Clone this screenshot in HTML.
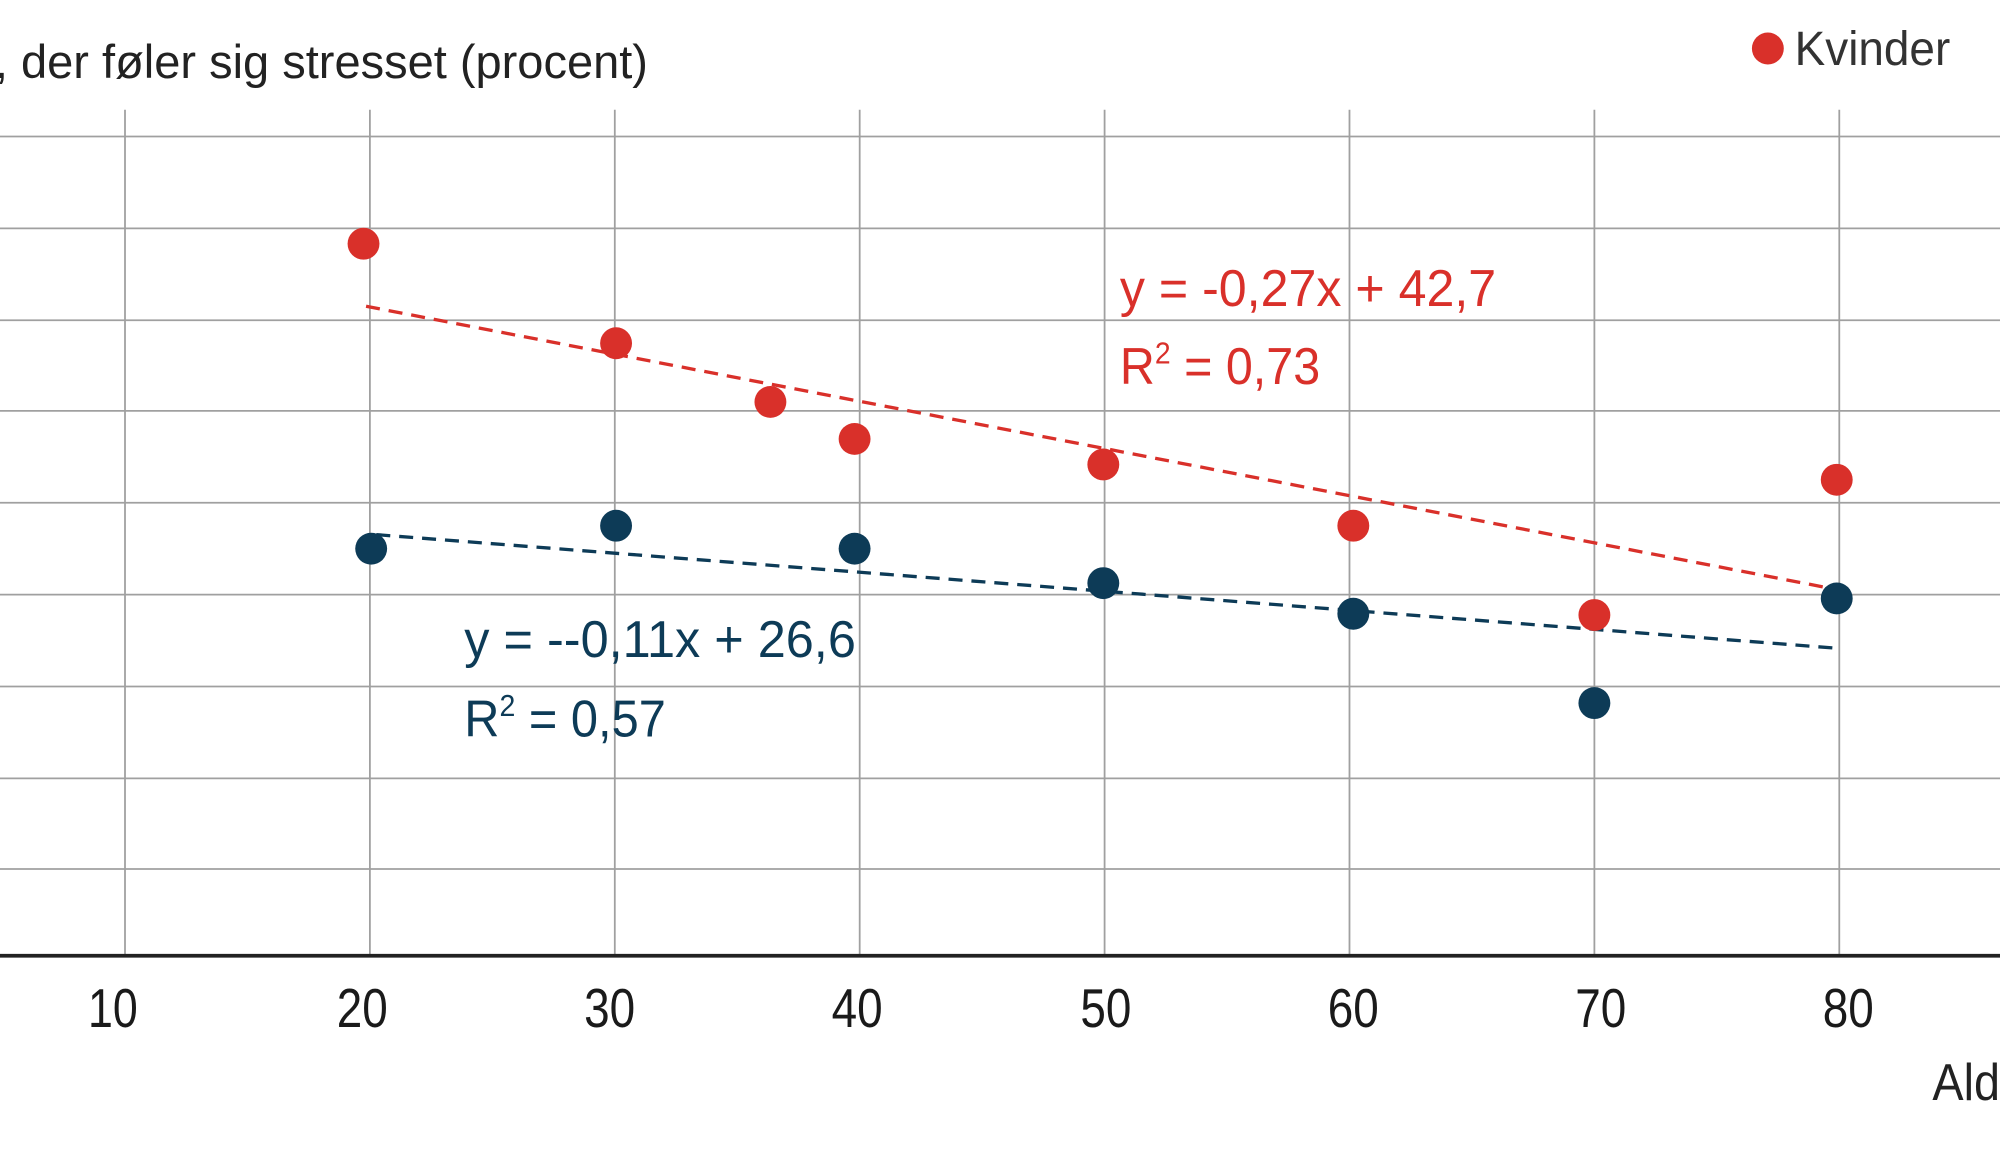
<!DOCTYPE html>
<html><head><meta charset="utf-8"><style>
html,body{margin:0;padding:0;background:#fff;}
svg{display:block;}
text{font-family:"Liberation Sans",sans-serif;}
</style></head><body>
<svg width="2000" height="1165" viewBox="0 0 1568 913" preserveAspectRatio="none" xmlns="http://www.w3.org/2000/svg">
<rect width="1568" height="913" fill="#fff"/>
<g stroke="#a0a0a0" stroke-width="1.4">
<line x1="98" y1="86" x2="98" y2="749"/>
<line x1="290" y1="86" x2="290" y2="749"/>
<line x1="482" y1="86" x2="482" y2="749"/>
<line x1="674" y1="86" x2="674" y2="749"/>
<line x1="866" y1="86" x2="866" y2="749"/>
<line x1="1058" y1="86" x2="1058" y2="749"/>
<line x1="1250" y1="86" x2="1250" y2="749"/>
<line x1="1442" y1="86" x2="1442" y2="749"/>
<line x1="0" y1="107" x2="1568" y2="107"/>
<line x1="0" y1="179" x2="1568" y2="179"/>
<line x1="0" y1="251" x2="1568" y2="251"/>
<line x1="0" y1="322" x2="1568" y2="322"/>
<line x1="0" y1="394" x2="1568" y2="394"/>
<line x1="0" y1="466" x2="1568" y2="466"/>
<line x1="0" y1="538" x2="1568" y2="538"/>
<line x1="0" y1="610" x2="1568" y2="610"/>
<line x1="0" y1="681" x2="1568" y2="681"/>
</g>
<line x1="0" y1="749" x2="1568" y2="749" stroke="#222" stroke-width="3"/>
<g font-size="43" fill="#1a1a1a">
<text x="69" y="805" textLength="39" lengthAdjust="spacingAndGlyphs">10</text>
<text x="264" y="805" textLength="40" lengthAdjust="spacingAndGlyphs">20</text>
<text x="458" y="805" textLength="40" lengthAdjust="spacingAndGlyphs">30</text>
<text x="652" y="805" textLength="40" lengthAdjust="spacingAndGlyphs">40</text>
<text x="847" y="805" textLength="40" lengthAdjust="spacingAndGlyphs">50</text>
<text x="1041" y="805" textLength="40" lengthAdjust="spacingAndGlyphs">60</text>
<text x="1235" y="805" textLength="40" lengthAdjust="spacingAndGlyphs">70</text>
<text x="1429" y="805" textLength="40" lengthAdjust="spacingAndGlyphs">80</text>
</g>
<text x="1515" y="862" font-size="41" fill="#222" textLength="53" lengthAdjust="spacingAndGlyphs">Ald</text>
<text x="-4" y="61" font-size="37" fill="#222" textLength="512" lengthAdjust="spacingAndGlyphs">, der føler sig stresset (procent)</text>
<circle cx="1386" cy="38" r="12.5" fill="#d9302a"/>
<text x="1407" y="51" font-size="38" fill="#333" textLength="122" lengthAdjust="spacingAndGlyphs">Kvinder</text>
<line x1="287" y1="240" x2="1440" y2="462" stroke="#d9302a" stroke-width="2.6" stroke-dasharray="11,7"/>
<line x1="295" y1="419" x2="1440" y2="508" stroke="#0d3b57" stroke-width="2.6" stroke-dasharray="11,7"/>
<g fill="#d9302a">
<circle cx="285" cy="191" r="12.5"/><circle cx="483" cy="269" r="12.5"/><circle cx="604" cy="315" r="12.5"/>
<circle cx="670" cy="344" r="12.5"/><circle cx="865" cy="364" r="12.5"/><circle cx="1061" cy="412" r="12.5"/>
<circle cx="1250" cy="482" r="12.5"/><circle cx="1440" cy="376" r="12.5"/>
</g>
<g fill="#0d3b57">
<circle cx="291" cy="430" r="12.5"/><circle cx="483" cy="412" r="12.5"/><circle cx="670" cy="430" r="12.5"/>
<circle cx="865" cy="457" r="12.5"/><circle cx="1061" cy="481" r="12.5"/><circle cx="1250" cy="551" r="12.5"/>
<circle cx="1440" cy="469" r="12.5"/>
</g>
<g fill="#d9302a" font-size="41">
<text x="878" y="240" textLength="295" lengthAdjust="spacingAndGlyphs">y = -0,27x + 42,7</text>
<text x="878" y="301" textLength="157" lengthAdjust="spacingAndGlyphs">R<tspan font-size="24" dy="-16">2</tspan><tspan dy="16"> = 0,73</tspan></text>
</g>
<g fill="#0d3b57" font-size="41">
<text x="364" y="515" textLength="307" lengthAdjust="spacingAndGlyphs">y = --0,11x + 26,6</text>
<text x="364" y="577" textLength="158" lengthAdjust="spacingAndGlyphs">R<tspan font-size="24" dy="-16">2</tspan><tspan dy="16"> = 0,57</tspan></text>
</g>
</svg>
</body></html>
